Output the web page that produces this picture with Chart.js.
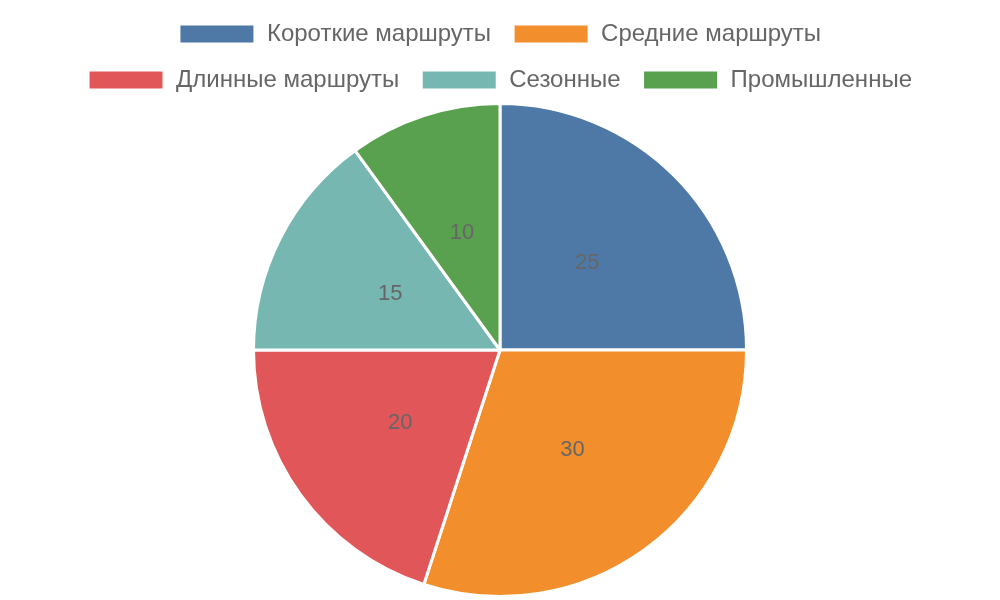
<!DOCTYPE html>
<html>
<head>
<meta charset="utf-8">
<script src="https://cdn.jsdelivr.net/npm/chart.js@4"></script>
<style>
  html, body { margin: 0; padding: 0; background: #fff; }
  #wrap { width: 1000px; height: 600px; }
</style>
</head>
<body>
<div id="wrap"><canvas id="pieCanvas"></canvas></div>
<script>
const categories = ['Короткие маршруты', 'Средние маршруты', 'Длинные маршруты', 'Сезонные', 'Промышленные'];
const shares = [25, 30, 20, 15, 10];
const colors = ['#4e79a7', '#f28e2b', '#e15759', '#76b7b2', '#59a14f'];

// подписи значений внутри секторов
const sliceLabels = {
    id: 'sliceLabels',
    afterDatasetsDraw(chart) {
        const ctx = chart.ctx;
        const meta = chart.getDatasetMeta(0);
        ctx.save();
        ctx.font = '22px "Liberation Sans", Arial, sans-serif';
        ctx.fillStyle = '#666';
        ctx.textAlign = 'center';
        ctx.textBaseline = 'middle';
        meta.data.forEach((arc, i) => {
            const p = arc.getCenterPoint();
            ctx.fillText(String(shares[i]), p.x, p.y);
        });
        ctx.restore();
    }
};

new Chart(document.getElementById('pieCanvas'), {
    type: 'pie',
    data: {
        labels: categories,
        datasets: [{
            data: shares,
            backgroundColor: colors,
            borderColor: '#fff',
            borderWidth: 3
        }]
    },
    options: {
        responsive: true,
        maintainAspectRatio: false,
        animation: false,
        layout: { padding: { bottom: 2 } },
        plugins: {
            legend: {
                position: 'top',
                labels: {
                    font: { size: 24, family: '"Liberation Sans", Arial, sans-serif' },
                    color: '#666',
                    boxWidth: 76,
                    boxHeight: 20,
                    padding: 22
                }
            },
            tooltip: { enabled: false }
        }
    },
    plugins: [sliceLabels]
});
</script>
</body>
</html>
